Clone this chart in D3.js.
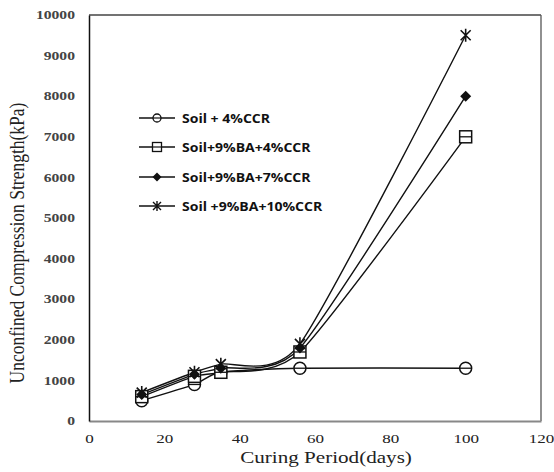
<!DOCTYPE html>
<html>
<head>
<meta charset="utf-8">
<script src="https://cdn.jsdelivr.net/npm/d3@7"></script>
<style>
  body { margin: 0; background: #fff; }
  svg { display: block; }
</style>
</head>
<body>
<svg id="chart" width="554" height="472"></svg>
<script>
const days = [14, 28, 35, 56, 100];
const soil4 = [500, 900, 1200, 1300, 1300];
const ba4 = [600, 1100, 1200, 1700, 7000];
const ba7 = [650, 1150, 1300, 1800, 8000];
const ba10 = [700, 1200, 1400, 1900, 9500];
const seriesNames = ['Soil + 4%CCR', 'Soil+9%BA+4%CCR', 'Soil+9%BA+7%CCR', 'Soil +9%BA+10%CCR'];
const xTicks = [0, 20, 40, 60, 80, 100, 120];
const yTicks = [0, 1000, 2000, 3000, 4000, 5000, 6000, 7000, 8000, 9000, 10000];

const series = [
  { name: seriesNames[0], values: soil4, marker: 'circle' },
  { name: seriesNames[1], values: ba4, marker: 'square' },
  { name: seriesNames[2], values: ba7, marker: 'diamond' },
  { name: seriesNames[3], values: ba10, marker: 'star' }
];

const svg = d3.select('#chart');
const plotLeft = 89, plotRight = 541, plotTop = 15, plotBottom = 421;
const stretch = 1.36; // picture text is wider than it is tall

const x = d3.scaleLinear().domain([0, 120]).range([plotLeft, plotRight]);
const y = d3.scaleLinear().domain([0, 10000]).range([plotBottom, plotTop]);

// frame
svg.append('line').attr('x1', plotLeft).attr('x2', plotRight).attr('y1', plotTop).attr('y2', plotTop)
  .attr('stroke', '#444').attr('stroke-width', 1.3);
svg.append('line').attr('x1', plotRight).attr('x2', plotRight).attr('y1', plotTop).attr('y2', plotBottom)
  .attr('stroke', '#555').attr('stroke-width', 1.3);

// axes
const xAxis = svg.append('g').attr('transform', `translate(0,${plotBottom})`)
  .call(d3.axisBottom(x).tickValues(xTicks).tickSize(0).tickPadding(0));
xAxis.select('.domain').attr('stroke', '#888').attr('stroke-width', 2);
xAxis.selectAll('.tick text')
  .attr('y', 0).attr('dy', null)
  .attr('transform', `translate(0,22) scale(${stretch},1)`)
  .attr('font-family', 'Liberation Serif').attr('font-size', 12.5).attr('fill', '#222');

const yAxis = svg.append('g').attr('transform', `translate(${plotLeft},0)`)
  .call(d3.axisLeft(y).tickValues(yTicks).tickSize(0).tickPadding(0).tickFormat(d3.format('d')));
yAxis.select('.domain').attr('stroke', '#111').attr('stroke-width', 1.5);
yAxis.selectAll('.tick text')
  .attr('x', 0)
  .attr('transform', `translate(-14,0) scale(${stretch},1)`)
  .attr('font-family', 'Liberation Serif').attr('font-size', 11.5)
  .attr('font-weight', 'bold').attr('fill', '#444');

// axis titles
svg.append('text').attr('transform', `translate(326,463) scale(${stretch - 0.04},1)`).attr('text-anchor', 'middle')
  .attr('font-family', 'Liberation Serif').attr('font-size', 16).attr('fill', '#222')
  .text('Curing Period(days)');
svg.append('text').attr('transform', 'translate(24,243) rotate(-90) scale(1,1.25)').attr('text-anchor', 'middle')
  .attr('font-family', 'Liberation Serif').attr('font-size', 17.5).attr('fill', '#222')
  .text('Unconfined Compression Strength(kPa)');

// smoothed lines, like the spreadsheet's "smooth line" option
const line = d3.line()
  .x((d, i) => x(days[i]))
  .y(d => y(d))
  .curve(d3.curveCardinal.tension(0.35));

function drawMarker(g, type) {
  if (type === 'circle') {
    g.append('circle').attr('r', 6).attr('fill', '#fff').attr('stroke', '#111').attr('stroke-width', 1.5);
    g.append('line').attr('x1', -6).attr('x2', 6).attr('stroke', '#111').attr('stroke-width', 1.3);
  } else if (type === 'square') {
    g.append('rect').attr('x', -6).attr('y', -6).attr('width', 12).attr('height', 12)
      .attr('fill', '#fff').attr('stroke', '#111').attr('stroke-width', 1.5);
    g.append('line').attr('x1', -6).attr('x2', 6).attr('stroke', '#111').attr('stroke-width', 1.3);
  } else if (type === 'diamond') {
    g.append('path').attr('d', 'M0,-5.5L5.5,0L0,5.5L-5.5,0Z').attr('fill', '#111');
  } else {
    g.append('path').attr('d', 'M-5,-5L5,5M-5,5L5,-5M0,-6.5L0,6.5')
      .attr('stroke', '#111').attr('stroke-width', 1.6).attr('fill', 'none');
  }
}

series.forEach(s => {
  svg.append('path').datum(s.values).attr('d', line)
    .attr('fill', 'none').attr('stroke', '#111').attr('stroke-width', 1.4);
});
series.forEach(s => {
  s.values.forEach((v, i) => {
    const g = svg.append('g').attr('transform', `translate(${x(days[i])},${y(v)})`);
    drawMarker(g, s.marker);
  });
});

// legend
const legendY = [118, 147, 177, 206];
series.forEach((s, i) => {
  const g = svg.append('g').attr('transform', `translate(139,${legendY[i]})`);
  g.append('line').attr('x1', 0).attr('x2', 36).attr('stroke', '#111').attr('stroke-width', 1.4);
  const m = g.append('g').attr('transform', 'translate(18,0)');
  if (s.marker === 'circle') {
    m.append('circle').attr('r', 4).attr('fill', '#fff').attr('stroke', '#111').attr('stroke-width', 1.3);
    m.append('line').attr('x1', -4).attr('x2', 4).attr('stroke', '#111').attr('stroke-width', 1.2);
  } else if (s.marker === 'square') {
    m.append('rect').attr('x', -4.5).attr('y', -4.5).attr('width', 9).attr('height', 9)
      .attr('fill', '#fff').attr('stroke', '#111').attr('stroke-width', 1.3);
    m.append('line').attr('x1', -4.5).attr('x2', 4.5).attr('stroke', '#111').attr('stroke-width', 1.2);
  } else if (s.marker === 'diamond') {
    m.append('path').attr('d', 'M0,-4.5L4.5,0L0,4.5L-4.5,0Z').attr('fill', '#111');
  } else {
    m.append('path').attr('d', 'M-4,-4L4,4M-4,4L4,-4M0,-5L0,5')
      .attr('stroke', '#111').attr('stroke-width', 1.4);
  }
  g.append('text').attr('transform', 'translate(43,0) scale(1.08,1)').attr('dy', '0.35em')
    .attr('font-family', 'Open Sans').attr('font-weight', 'bold').attr('font-size', 13)
    .attr('fill', '#111').text(s.name);
});
</script>
</body>
</html>
